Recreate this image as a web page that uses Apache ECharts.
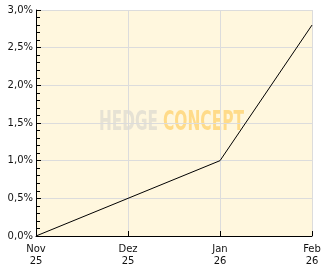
<!DOCTYPE html>
<html>
<head>
<meta charset="utf-8">
<style>html,body{margin:0;padding:0;background:#fff;}#c{width:332px;height:269px;}</style>
<script src="https://cdn.jsdelivr.net/npm/echarts@6/dist/echarts.min.js"></script>
</head>
<body>
<div id="c"></div>
<script>
var categories = ['Nov\n25', 'Dez\n25', 'Jan\n26', 'Feb\n26'];
var values = [0, 0.5, 1.0, 2.8];
var yTicks = [0, 0.5, 1.0, 1.5, 2.0, 2.5, 3.0];

function fitScale(text, font, width) {
  var cv = document.createElement('canvas').getContext('2d');
  cv.font = font;
  return width / cv.measureText(text).width;
}
var wmFont = 'bold 26px "DejaVu Sans Condensed"';
var s1 = fitScale('HEDGE', wmFont, 59);
var s2 = fitScale('CONCEPT', wmFont, 81);

var chart = echarts.init(document.getElementById('c'), null, {renderer: 'canvas'});
chart.setOption({
  animation: false,
  backgroundColor: '#ffffff',
  grid: {left: 36, right: 20, top: 10, bottom: 33, show: true, backgroundColor: '#FFF7DE', borderWidth: 0},
  xAxis: {
    type: 'category',
    data: categories,
    boundaryGap: false,
    axisLine: {lineStyle: {color: '#000', width: 1}},
    axisTick: {show: true, inside: true, length: 5, lineStyle: {color: '#000'}},
    axisLabel: {color: '#111', fontFamily: 'DejaVu Sans', fontSize: 10, lineHeight: 12, margin: 7, interval: 0},
    splitLine: {show: true, lineStyle: {color: '#dcdcdc', width: 1}}
  },
  yAxis: {
    type: 'value',
    min: yTicks[0],
    max: yTicks[yTicks.length - 1],
    interval: 0.5,
    axisLine: {show: true, lineStyle: {color: '#000', width: 1}},
    axisTick: {show: true, inside: true, length: 5, lineStyle: {color: '#000'}},
    minorTick: {show: true, splitNumber: 5, length: 4, lineStyle: {color: '#000'}},
    axisLabel: {
      color: '#111', fontFamily: 'DejaVu Sans', fontSize: 10, margin: 3,
      formatter: function (v) { return v.toFixed(1).replace('.', ',') + '%'; }
    },
    splitLine: {show: true, lineStyle: {color: '#dcdcdc', width: 1}}
  },
  graphic: [
    {type: 'text', left: 99, top: 110, z: 0, scaleX: s1, originX: 0,
     style: {text: 'HEDGE', font: wmFont, fill: 'rgba(200,200,200,0.45)'}},
    {type: 'text', left: 163, top: 110, z: 0, scaleX: s2, originX: 0,
     style: {text: 'CONCEPT', font: wmFont, fill: 'rgba(255,200,80,0.6)'}}
  ],
  series: [{
    type: 'line',
    data: values,
    symbol: 'none',
    z: 5,
    lineStyle: {color: '#000', width: 1}
  }]
});
</script>
</body>
</html>
